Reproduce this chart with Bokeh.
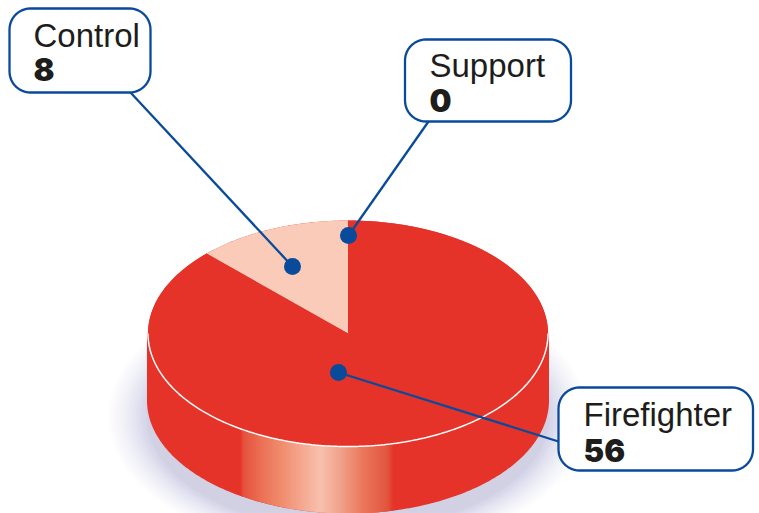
import numpy as np
from bokeh.embed import file_html
from bokeh.models import Range1d
from bokeh.plotting import figure
from bokeh.resources import INLINE

# Pie values
categories = ["Firefighter", "Control", "Support"]
counts = [56, 8, 0]

RED = "#e5332a"
PALE = "#f9cbb8"
BLUE = "#0a4a9b"
INK = "#1d1d1b"

# Disc geometry, in page pixels
CX, CY, RX, RY = 347.5, 333.0, 200.0, 113.0
DEPTH = 67.0

# Callout boxes: left, top, right, bottom, then the anchor where the leader leaves
# the box and the marker it runs to.
callouts = {
    "Control": dict(box=(9, 8, 150, 92), anchor=(130, 92), dot=(292, 266), text=(33, 35), num=(33, 69)),
    "Support": dict(box=(404.5, 39, 570.5, 121), anchor=(428, 121), dot=(348, 235), text=(429, 65), num=(429, 100)),
    "Firefighter": dict(box=(558, 387, 752.5, 470), anchor=(558, 441), dot=(338, 372), text=(583, 414), num=(583, 450)),
}

# Highlight across the disc's front wall: position along x, colour
band_stops = [
    (240, (229, 51, 42)), (243, (229, 84, 62)), (262, (236, 118, 90)), (280, (240, 144, 112)),
    (300, (245, 172, 148)), (320, (249, 201, 181)), (340, (241, 168, 144)), (363, (234, 122, 94)),
    (387, (226, 88, 64)), (393, (229, 51, 42)),
]


def rounded_box(l, t, r, b, rad=21, n=12):
    xs, ys = [], []
    corners = [(r - rad, t + rad, -90), (r - rad, b - rad, 0), (l + rad, b - rad, 90), (l + rad, t + rad, 180)]
    for cx, cy, start in corners:
        a = np.radians(np.linspace(start, start + 90, n))
        xs.extend(cx + rad * np.cos(a))
        ys.extend(cy + rad * np.sin(a))
    return xs, ys


def wedge(start_count, end_count, total):
    # Angles run anticlockwise from twelve o'clock
    a = np.linspace(start_count, end_count, 120) / total * 2 * np.pi
    xs = np.concatenate([[CX], CX - RX * np.sin(a)])
    ys = np.concatenate([[CY], CY - RY * np.cos(a)])
    return xs, ys


p = figure(width=759, height=513, output_backend="svg", toolbar_location=None,
           x_range=Range1d(0, 759), y_range=Range1d(513, 0), min_border=0,
           outline_line_color=None, background_fill_color="white", border_fill_color="white")
p.axis.visible = False
p.grid.visible = False

# Soft shadow beneath the disc; layers thin out towards the outside
t = np.linspace(0, 2 * np.pi, 180)
for u in np.linspace(1, 0, 28):
    g = 40 * u ** 1.7
    p.patch(CX + (RX + g) * np.cos(t), CY + DEPTH + 16 + (RY + 0.6 * g) * np.sin(t),
            fill_color="#a6acd2", fill_alpha=0.026, line_color=None)

# Side wall
a = np.linspace(0, np.pi, 240)
wall_x = np.concatenate([[CX - RX - 1, CX - RX - 1], CX - (RX + 1) * np.cos(a), [CX + RX + 1]])
wall_y = np.concatenate([[CY, CY + DEPTH], CY + DEPTH + RY * np.sin(a), [CY]])
p.patch(wall_x, wall_y, fill_color=RED, line_color=None)

# Highlight strips on the wall, each one following the disc's curve
px = [s[0] for s in band_stops]
rgb = np.array([s[1] for s in band_stops], dtype=float)
edges = np.arange(px[0], px[-1] + 1, 1.0)
for x0, x1 in zip(edges[:-1], edges[1:]):
    mid = (x0 + x1) / 2
    col = [int(round(np.interp(mid, px, rgb[:, i]))) for i in range(3)]
    y_top = CY + RY * np.sqrt(1 - ((mid - CX) / RX) ** 2)
    p.quad(left=x0, right=x1 + 0.4, top=y_top - 1, bottom=y_top + DEPTH,
           fill_color=f"#{col[0]:02x}{col[1]:02x}{col[2]:02x}", line_color=None)

# Top face, one wedge per category
total = sum(counts)
tt = np.linspace(0, 2 * np.pi, 360)
p.patch(CX + RX * np.cos(tt), CY + RY * np.sin(tt), fill_color=RED, line_color=None)
pos = 0
for name in ["Control", "Firefighter"]:
    n = counts[categories.index(name)]
    xs, ys = wedge(pos, pos + n, total)
    p.patch(xs, ys, fill_color=PALE if name == "Control" else RED, line_color=None)
    pos += n

# Rim line along the front edge of the top face
rim = np.linspace(0, np.pi, 200)
p.line(CX + RX * np.cos(rim), CY + RY * np.sin(rim), line_color="white", line_width=1.5)

# Leaders, markers and callouts
for name in categories:
    c = callouts[name]
    p.line([c["anchor"][0], c["dot"][0]], [c["anchor"][1], c["dot"][1]], line_color=BLUE, line_width=2.3)
    p.scatter([c["dot"][0]], [c["dot"][1]], size=17, fill_color=BLUE, line_color=None)
    xs, ys = rounded_box(*c["box"])
    p.patch(xs, ys, fill_color="white", line_color=BLUE, line_width=2.3)
    p.text([c["text"][0]], [c["text"][1]], text=[name], text_font={"value": "Liberation Sans"},
           text_font_size="33px", text_color=INK, text_baseline="middle", text_align="left")
    p.text([c["num"][0]], [c["num"][1]], text=[str(counts[categories.index(name)])],
           text_font={"value": "Inter Black"}, text_font_style="bold", text_font_size="31px",
           text_color=INK, text_baseline="middle", text_align="left")

open("out.html", "w").write(file_html(p, INLINE))
